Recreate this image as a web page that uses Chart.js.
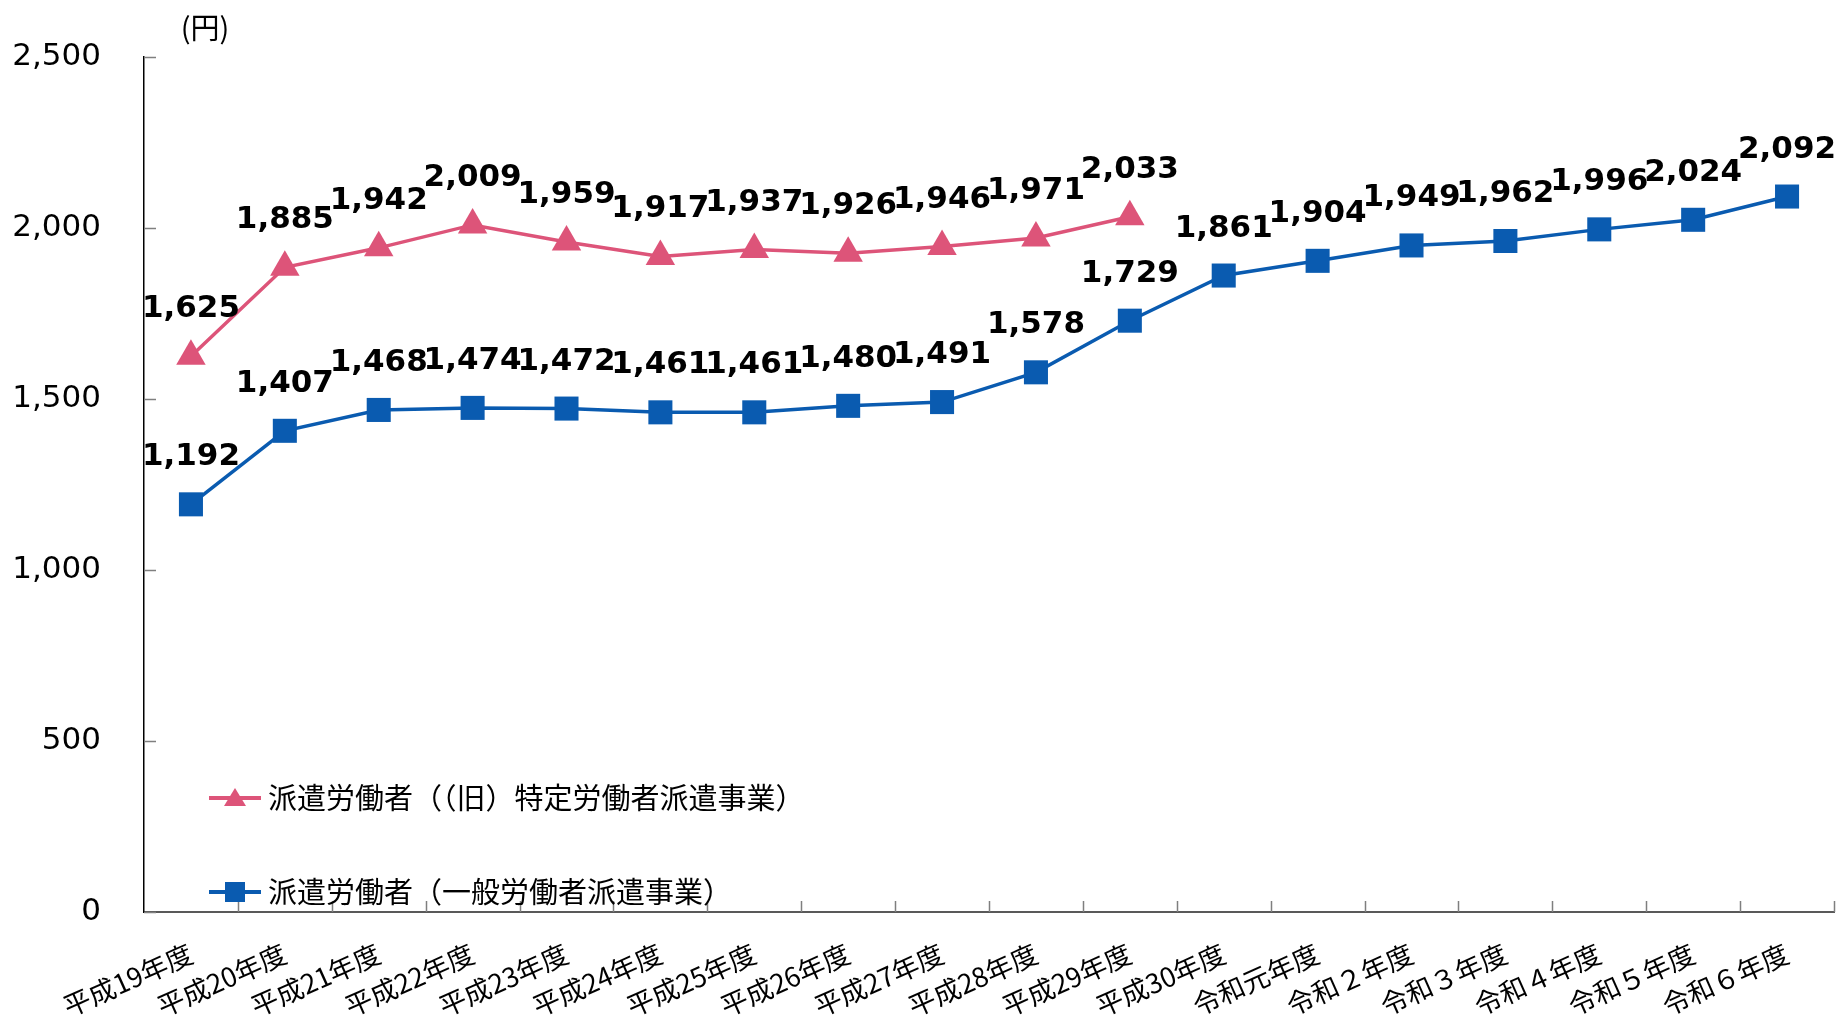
<!DOCTYPE html>
<html lang="ja">
<head>
    <meta charset="UTF-8">
    <title>派遣労働者の平均賃金</title>
    <script src="https://cdn.jsdelivr.net/npm/chart.js"></script>
    <style>
        html, body { margin: 0; padding: 0; background: #fff; overflow: hidden; }
        .container { width: 1841px; height: 1017px; position: relative; }
        canvas { display: block; }
    </style>
</head>
<body>
    <div class="container">
        <canvas id="grafica"></canvas>
    </div>
    <script>
        // Datos
        const nendo = ['平成19年度', '平成20年度', '平成21年度', '平成22年度', '平成23年度', '平成24年度',
            '平成25年度', '平成26年度', '平成27年度', '平成28年度', '平成29年度', '平成30年度',
            '令和元年度', '令和２年度', '令和３年度', '令和４年度', '令和５年度', '令和６年度'];
        const tokutei = [1625, 1885, 1942, 2009, 1959, 1917, 1937, 1926, 1946, 1971, 2033,
            null, null, null, null, null, null, null];
        const ippan = [1192, 1407, 1468, 1474, 1472, 1461, 1461, 1480, 1491, 1578, 1729,
            1861, 1904, 1949, 1962, 1996, 2024, 2092];
        const nombres = ['派遣労働者（（旧）特定労働者派遣事業）', '派遣労働者（一般労働者派遣事業）'];
        const yMax = 2500;
        const yPaso = 500;
        const unidad = '(円)';

        const ROSA = '#DD5479';
        const AZUL = '#0A5BB0';
        const JP = '"Noto Sans CJK JP", sans-serif';

        const fmt = v => v.toLocaleString('en-US');

        // Marcas interiores, etiquetas de datos, leyenda y unidad
        const decoraciones = {
            id: 'decoraciones',
            afterDraw(chart) {
                const { ctx, chartArea, scales: { x, y } } = chart;
                ctx.save();

                // marcas del eje X (hacia dentro, entre categorías)
                const medio = (x.getPixelForValue(1) - x.getPixelForValue(0)) / 2;
                ctx.strokeStyle = '#7f7f7f';
                ctx.lineWidth = 1.5;
                for (let i = 0; i < nendo.length; i++) {
                    const px = Math.round(x.getPixelForValue(i) + medio) + 0.5;
                    ctx.beginPath();
                    ctx.moveTo(px, chartArea.bottom);
                    ctx.lineTo(px, chartArea.bottom - 11);
                    ctx.stroke();
                }
                // marcas del eje Y
                y.ticks.forEach(t => {
                    const py = Math.round(y.getPixelForValue(t.value)) + 0.5;
                    ctx.beginPath();
                    ctx.moveTo(chartArea.left, py);
                    ctx.lineTo(chartArea.left + 12, py);
                    ctx.stroke();
                });

                // etiquetas de datos
                ctx.fillStyle = '#000';
                ctx.font = 'bold 31px "DejaVu Sans"';
                ctx.textAlign = 'center';
                ctx.textBaseline = 'middle';
                chart.data.datasets.forEach((ds, i) => {
                    const meta = chart.getDatasetMeta(i);
                    meta.data.forEach((pt, j) => {
                        const v = ds.data[j];
                        if (v == null) return;
                        ctx.fillText(fmt(v), pt.x, pt.y - 47);
                    });
                });

                // leyenda dentro del área
                const items = [
                    { ds: chart.data.datasets[0], y: 798 },
                    { ds: chart.data.datasets[1], y: 892 }
                ];
                const x0 = chartArea.left + 65;
                items.forEach(it => {
                    ctx.strokeStyle = it.ds.borderColor;
                    ctx.fillStyle = it.ds.borderColor;
                    ctx.lineWidth = 4;
                    ctx.beginPath();
                    ctx.moveTo(x0, it.y);
                    ctx.lineTo(x0 + 52, it.y);
                    ctx.stroke();
                    const cx = x0 + 26;
                    ctx.beginPath();
                    if (it.ds.pointStyle === 'triangle') {
                        ctx.moveTo(cx, it.y - 10);
                        ctx.lineTo(cx + 11, it.y + 8);
                        ctx.lineTo(cx - 11, it.y + 8);
                        ctx.closePath();
                    } else {
                        ctx.rect(cx - 10, it.y - 10, 20, 20);
                    }
                    ctx.fill();
                    ctx.fillStyle = '#000';
                    ctx.font = '29px ' + JP;
                    ctx.textAlign = 'left';
                    ctx.textBaseline = 'middle';
                    ctx.fillText(it.ds.label, x0 + 59, it.y);
                });

                // unidad
                ctx.font = '29px ' + JP;
                ctx.textAlign = 'center';
                ctx.fillText(unidad, chartArea.left + 61, 28);

                ctx.restore();
            }
        };

        const ctx = document.getElementById('grafica').getContext('2d');
        new Chart(ctx, {
            type: 'line',
            data: {
                labels: nendo,
                datasets: [{
                    label: nombres[0],
                    data: tokutei,
                    borderColor: ROSA,
                    backgroundColor: ROSA,
                    borderWidth: 3.5,
                    pointStyle: 'triangle',
                    pointRadius: 17,
                    pointHoverRadius: 17,
                    pointBorderWidth: 0,
                    spanGaps: false
                }, {
                    label: nombres[1],
                    data: ippan,
                    borderColor: AZUL,
                    backgroundColor: AZUL,
                    borderWidth: 3.5,
                    pointStyle: 'rect',
                    pointRadius: 17,
                    pointHoverRadius: 17,
                    pointBorderWidth: 0
                }]
            },
            options: {
                responsive: true,
                maintainAspectRatio: false,
                animation: false,
                // sin autoPadding: los marcadores grandes no deben encoger el área
                layout: { autoPadding: false, padding: { top: 57, right: 7, left: 0, bottom: 0 } },
                plugins: {
                    legend: { display: false },
                    tooltip: { enabled: false }
                },
                elements: { line: { tension: 0 } },
                scales: {
                    x: {
                        offset: true,
                        grid: { display: false, drawTicks: false },
                        border: { color: '#595959', width: 2 },
                        ticks: {
                            color: '#000',
                            font: { family: JP, size: 27 },
                            minRotation: 24,
                            maxRotation: 24,
                            autoSkip: false,
                            padding: 25
                        },
                        afterFit: s => {
                            s.height = 105;
                            s.paddingLeft = 0;
                            s.paddingRight = 0;
                        }
                    },
                    y: {
                        min: 0,
                        max: yMax,
                        grid: { display: false, drawTicks: false },
                        border: { color: '#000', width: 1.5 },
                        ticks: {
                            stepSize: yPaso,
                            color: '#000',
                            font: { family: '"DejaVu Sans"', size: 31 },
                            padding: 43,
                            callback: v => fmt(v)
                        },
                        afterFit: s => {
                            s.width = 144;
                            s.paddingTop = 0;
                            s.paddingBottom = 0;
                        }
                    }
                }
            },
            plugins: [decoraciones]
        });
    </script>
</body>
</html>
